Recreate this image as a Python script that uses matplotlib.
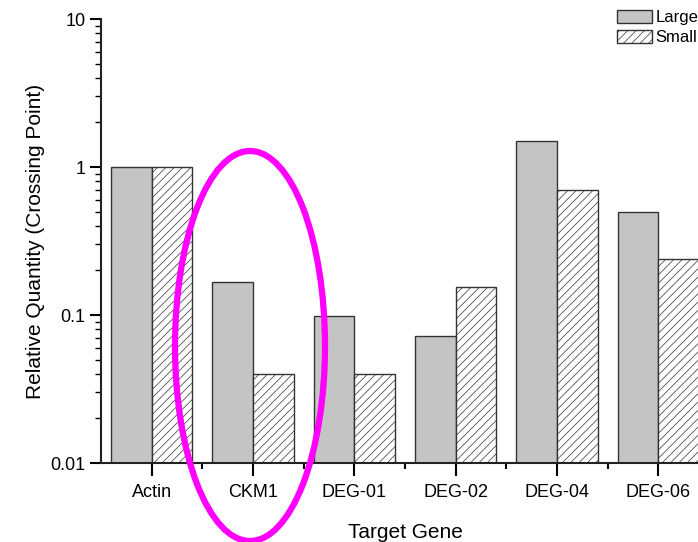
import matplotlib
matplotlib.use("Agg")
import matplotlib.pyplot as plt
from matplotlib.patches import Ellipse
from matplotlib.ticker import LogLocator, FixedLocator, NullFormatter
import numpy as np

categories = ["Actin", "CKM1", "DEG-01", "DEG-02", "DEG-04", "DEG-06"]
large = [1.0, 0.167, 0.098, 0.072, 1.5, 0.50]
small = [1.0, 0.040, 0.040, 0.155, 0.70, 0.238]
series_names = ["Large", "Small"]

plt.rcParams['font.family'] = ['Liberation Sans', 'DejaVu Sans']
plt.rcParams['hatch.linewidth'] = 0.5

W, H = 698, 542
fig = plt.figure(figsize=(W/100, H/100), dpi=100)
ax = fig.add_axes([101/W, 1-463/H, (709-101)/W, (463-19)/H])

x = np.arange(len(categories))
bw = 0.4
base = 0.01
ax.bar(x - bw/2, np.array(large) - base, bw, color='#c4c4c4', edgecolor='#333333', linewidth=1.0,
       label=series_names[0], bottom=base, zorder=2)
ax.bar(x + bw/2, np.array(small) - base, bw, color='white', edgecolor='#333333', linewidth=1.0,
       hatch='////', label=series_names[1], bottom=base, zorder=2)

ax.set_yscale('log')
ax.set_ylim(0.01, 10)
ax.set_xlim(-0.5, 5.5)
ax.set_yticks([0.01, 0.1, 1, 10])
ax.set_yticklabels(['0.01', '0.1', '1', '10'])
ax.yaxis.set_minor_locator(LogLocator(base=10, subs=np.arange(2, 10)))
ax.yaxis.set_minor_formatter(NullFormatter())
ax.set_xticks(x)
ax.set_xticklabels(categories)
ax.xaxis.set_minor_locator(FixedLocator(x[:-1] + 0.5))

for s in ['top', 'right']:
    ax.spines[s].set_visible(False)
for s in ['left', 'bottom']:
    ax.spines[s].set_linewidth(1.5)
    ax.spines[s].set_color('#222222')

ax.tick_params(axis='y', which='major', length=8, width=1.5, labelsize=13, pad=3, direction='out')
ax.tick_params(axis='y', which='minor', length=4, width=1.0, direction='out')
ax.tick_params(axis='x', which='major', length=9, width=1.5, labelsize=13, pad=6, direction='out')
ax.tick_params(axis='x', which='minor', length=4, width=1.5, direction='out')

ax.set_ylabel('Relative Quantity (Crossing Point)', fontsize=15, labelpad=4)
ax.set_xlabel('Target Gene', fontsize=15, labelpad=16)

leg = ax.legend(loc='upper left', bbox_to_anchor=(617/W, 1-10/H), bbox_transform=fig.transFigure,
                frameon=False, fontsize=12, handlelength=2.1, handleheight=0.85,
                handletextpad=0.2, labelspacing=0.25, borderpad=0, borderaxespad=0)

ell = Ellipse((250/W, 1-346/H), 150/W, 390/H, transform=fig.transFigure,
              fill=False, edgecolor='#ff00ff', linewidth=4.5, zorder=10)
fig.patches.append(ell)

fig.savefig('out.png', dpi=100)
